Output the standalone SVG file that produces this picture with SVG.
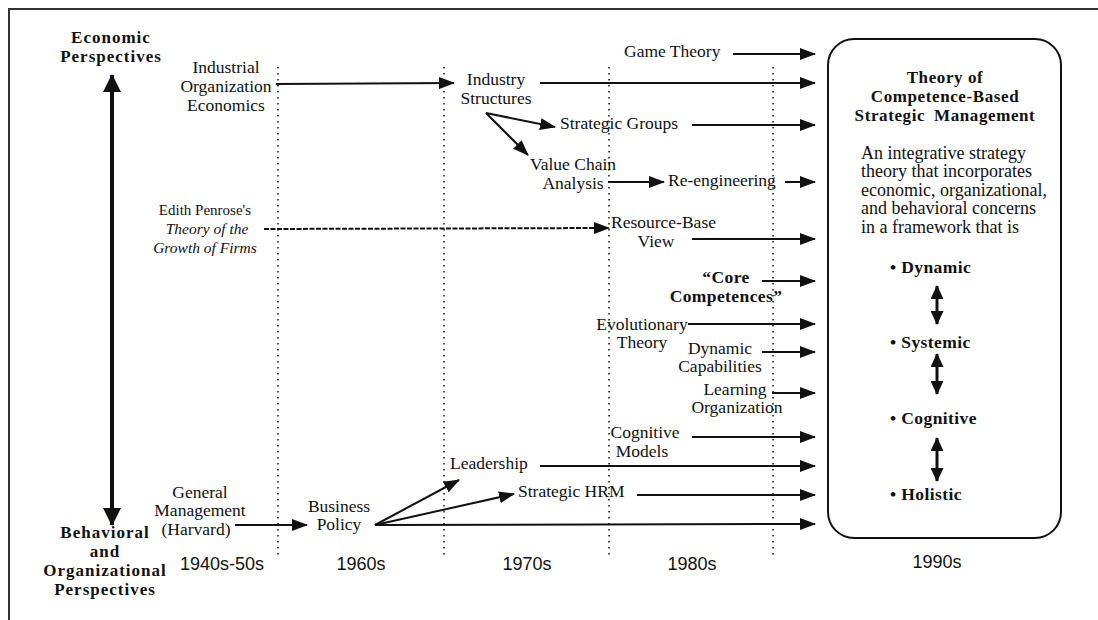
<svg xmlns="http://www.w3.org/2000/svg" width="1098" height="620" viewBox="0 0 1098 620">
<style>
  .t { font-family: "Liberation Serif", "Times New Roman", serif; font-size: 17.5px; fill: #111; }
  .ti { font-family: "Liberation Serif", "Times New Roman", serif; font-size: 15.5px; font-style: italic; fill: #111; }
  .ts { font-family: "Liberation Serif", "Times New Roman", serif; font-size: 15px; fill: #111; }
  .tb { font-family: "Liberation Serif", "Times New Roman", serif; font-size: 17px; font-weight: bold; letter-spacing: 1px; fill: #111; }
  .tbb { font-family: "Liberation Serif", "Times New Roman", serif; font-size: 17.5px; font-weight: bold; letter-spacing: 0.4px; fill: #111; }
  .tbox { font-family: "Liberation Serif", "Times New Roman", serif; font-size: 18px; fill: #111; }
  .yr { font-family: "Liberation Sans", Arial, sans-serif; font-size: 18px; fill: #111; }
  .m { text-anchor: middle; }
  .ar { fill: none; stroke: #111; stroke-width: 2; marker-end: url(#ah); }
  .dot { fill: none; stroke: #222; stroke-width: 1.6; stroke-dasharray: 1.5 4.5; }
  .frame { fill: none; stroke: #333; stroke-width: 2; }
</style>
<defs>
  <marker id="ah" markerUnits="userSpaceOnUse" markerWidth="16" markerHeight="12" refX="15" refY="6" orient="auto">
    <path d="M0,0 L16,6 L0,12 z" fill="#111"/>
  </marker>
  <marker id="big" markerUnits="userSpaceOnUse" markerWidth="18" markerHeight="18" refX="17" refY="9" orient="auto-start-reverse">
    <path d="M0,0 L18,9 L0,18 z" fill="#111"/>
  </marker>
  <marker id="mid" markerUnits="userSpaceOnUse" markerWidth="14" markerHeight="13" refX="13" refY="6.5" orient="auto-start-reverse">
    <path d="M0,0 L14,6.5 L0,13 z" fill="#111"/>
  </marker>
</defs>
<rect width="1098" height="620" fill="#fff"/>
<g id="frame">
  <path class="frame" d="M9,620 L9,9 L1098,9"/>
</g>
<g id="era-lines">
  <line class="dot" x1="278" y1="67" x2="278" y2="555"/>
  <line class="dot" x1="444" y1="67" x2="444" y2="555"/>
  <line class="dot" x1="609" y1="67" x2="609" y2="555"/>
  <line class="dot" x1="773" y1="67" x2="773" y2="555"/>
</g>
<g id="connectors">
  <line x1="112" y1="75" x2="112" y2="525" stroke="#111" stroke-width="4" marker-start="url(#big)" marker-end="url(#big)"/>
  <line class="ar" x1="276" y1="84" x2="454" y2="83"/>
  <line class="ar" x1="733" y1="54" x2="815" y2="54"/>
  <line class="ar" x1="540" y1="83" x2="815" y2="83"/>
  <line class="ar" x1="486" y1="113" x2="555" y2="127"/>
  <line class="ar" x1="486" y1="113" x2="528" y2="155"/>
  <line class="ar" x1="692" y1="125" x2="815" y2="125"/>
  <line class="ar" x1="608" y1="182" x2="664" y2="182"/>
  <line class="ar" x1="785" y1="182" x2="815" y2="182"/>
  <line fill="none" stroke="#111" stroke-width="2" stroke-dasharray="5 1.5" marker-end="url(#ah)" x1="264" y1="229" x2="609" y2="228"/>
  <line class="ar" x1="692" y1="239" x2="815" y2="239"/>
  <line class="ar" x1="762" y1="281" x2="815" y2="281"/>
  <line class="ar" x1="688" y1="324" x2="815" y2="324"/>
  <line class="ar" x1="762" y1="352" x2="815" y2="352"/>
  <line class="ar" x1="772" y1="393" x2="815" y2="393"/>
  <line class="ar" x1="692" y1="437" x2="815" y2="437"/>
  <line class="ar" x1="540" y1="466" x2="815" y2="466"/>
  <line class="ar" x1="637" y1="495" x2="815" y2="495"/>
  <line class="ar" x1="235" y1="525" x2="307" y2="525"/>
  <line class="ar" x1="375" y1="525" x2="459" y2="480"/>
  <line class="ar" x1="375" y1="525" x2="514" y2="494"/>
  <line class="ar" x1="375" y1="525" x2="815" y2="524"/>
  <line x1="937" y1="286" x2="937" y2="324" stroke="#111" stroke-width="3" marker-start="url(#mid)" marker-end="url(#mid)"/>
  <line x1="937" y1="354" x2="937" y2="394" stroke="#111" stroke-width="3" marker-start="url(#mid)" marker-end="url(#mid)"/>
  <line x1="937" y1="438" x2="937" y2="481" stroke="#111" stroke-width="3" marker-start="url(#mid)" marker-end="url(#mid)"/>
</g>
<g id="economic-perspectives">
  <text class="tb m" x="111" y="43">Economic</text>
  <text class="tb m" x="111" y="62">Perspectives</text>
</g>
<g id="behavioral-perspectives">
  <text class="tb m" x="105" y="538">Behavioral</text>
  <text class="tb m" x="105" y="557">and</text>
  <text class="tb m" x="105" y="576">Organizational</text>
  <text class="tb m" x="105" y="595">Perspectives</text>
</g>
<g id="io-economics">
  <text class="t m" x="226" y="73">Industrial</text>
  <text class="t m" x="226" y="92">Organization</text>
  <text class="t m" x="226" y="111">Economics</text>
</g>
<g id="game-theory"><text class="t" x="624" y="57">Game Theory</text></g>
<g id="industry-structures">
  <text class="t m" x="496" y="85">Industry</text>
  <text class="t m" x="496" y="104">Structures</text>
</g>
<g id="strategic-groups"><text class="t" x="560" y="129">Strategic Groups</text></g>
<g id="value-chain">
  <text class="t m" x="573" y="170">Value Chain</text>
  <text class="t m" x="573" y="189">Analysis</text>
</g>
<g id="re-engineering"><text class="t" x="668" y="186">Re-engineering</text></g>
<g id="penrose">
  <text class="ts m" x="205" y="215">Edith Penrose's</text>
  <text class="ti m" x="207" y="234">Theory of the</text>
  <text class="ti m" x="205" y="253">Growth of Firms</text>
</g>
<g id="resource-base">
  <text class="t" x="611" y="228">Resource-Base</text>
  <text class="t m" x="656" y="247">View</text>
</g>
<g id="core-competences">
  <text class="tbb m" x="726" y="283">“Core</text>
  <text class="tbb m" x="726" y="302">Competences”</text>
</g>
<g id="evolutionary-theory">
  <text class="t m" x="642" y="330">Evolutionary</text>
  <text class="t m" x="642" y="348">Theory</text>
</g>
<g id="dynamic-capabilities">
  <text class="t m" x="720" y="354">Dynamic</text>
  <text class="t m" x="720" y="372">Capabilities</text>
</g>
<g id="learning-organization">
  <text class="t m" x="735" y="395">Learning</text>
  <text class="t m" x="737" y="413">Organization</text>
</g>
<g id="cognitive-models">
  <text class="t m" x="645" y="438">Cognitive</text>
  <text class="t m" x="642" y="457">Models</text>
</g>
<g id="leadership"><text class="t" x="450" y="469">Leadership</text></g>
<g id="strategic-hrm"><text class="t" x="518" y="497">Strategic HRM</text></g>
<g id="general-management">
  <text class="t m" x="200" y="498">General</text>
  <text class="t m" x="200" y="516">Management</text>
  <text class="t m" x="196" y="535">(Harvard)</text>
</g>
<g id="business-policy">
  <text class="t m" x="339" y="512">Business</text>
  <text class="t m" x="339" y="530">Policy</text>
</g>
<g id="competence-theory">
  <rect x="828" y="39" width="233" height="499" rx="26" ry="26" fill="none" stroke="#111" stroke-width="2"/>
  <text class="tb m" x="945" y="83" style="letter-spacing:0.6px">Theory of</text>
  <text class="tb m" x="945" y="102" style="letter-spacing:0.6px">Competence-Based</text>
  <text class="tb m" x="945" y="121" style="letter-spacing:0.6px;word-spacing:4px">Strategic Management</text>
  <text class="tbox" x="861" y="159">An integrative strategy</text>
  <text class="tbox" x="861" y="177">theory that incorporates</text>
  <text class="tbox" x="861" y="196">economic, organizational,</text>
  <text class="tbox" x="861" y="214">and behavioral concerns</text>
  <text class="tbox" x="861" y="233">in a framework that is</text>
  <text class="tbb" x="890" y="273">• Dynamic</text>
  <text class="tbb" x="890" y="348">• Systemic</text>
  <text class="tbb" x="890" y="424">• Cognitive</text>
  <text class="tbb" x="890" y="500">• Holistic</text>
</g>
<g id="timeline">
  <text class="yr m" x="222" y="570">1940s-50s</text>
  <text class="yr m" x="361" y="570">1960s</text>
  <text class="yr m" x="527" y="570">1970s</text>
  <text class="yr m" x="692" y="570">1980s</text>
  <text class="yr m" x="937" y="568">1990s</text>
</g>
</svg>
